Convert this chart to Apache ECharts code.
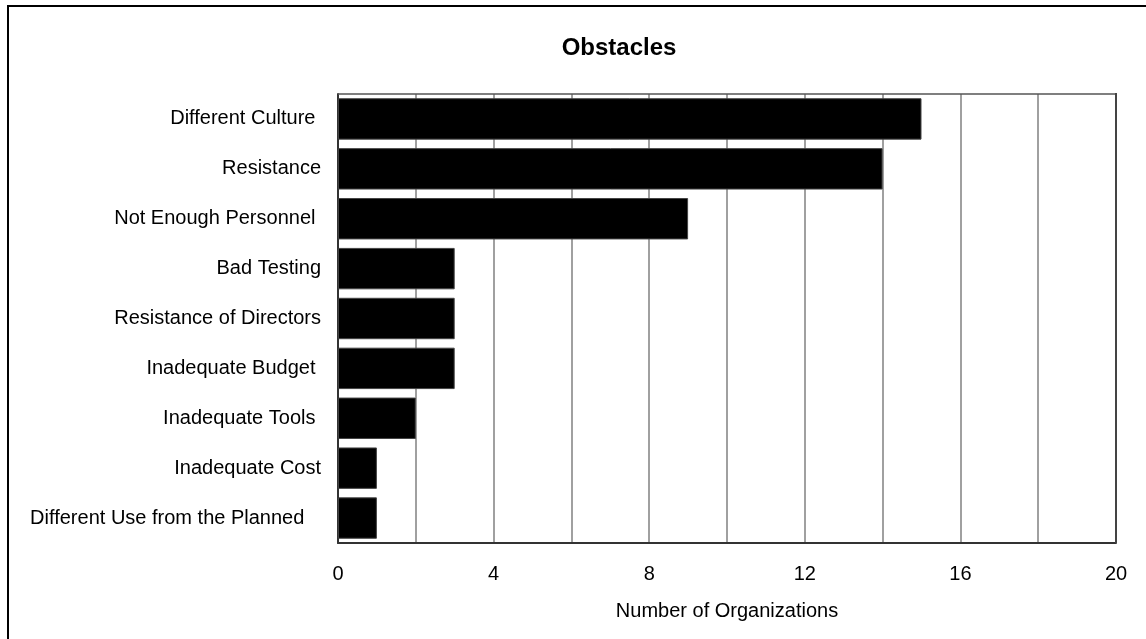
<!DOCTYPE html>
<html>
<head>
<meta charset="utf-8">
<title>Obstacles</title>
<script src="https://cdn.jsdelivr.net/npm/echarts@6/dist/echarts.min.js"></script>
<style>
  html, body { margin: 0; padding: 0; background: #fff; }
  #chart { width: 1146px; height: 639px; }
</style>
</head>
<body>
<div id="chart"></div>
<script>
// Obstacles reported, top to bottom as listed
const categories = [
  'Different Culture ',
  'Resistance',
  'Not Enough Personnel ',
  'Bad Testing',
  'Resistance of Directors',
  'Inadequate Budget ',
  'Inadequate Tools ',
  'Inadequate Cost',
  'Different Use from the Planned   '
];
const organizations = [15, 14, 9, 3, 3, 3, 2, 1, 1];
const xTickLabels = [0, 4, 8, 12, 16, 20];

const FONT = 'Liberation Sans, Arial, sans-serif';
const chart = echarts.init(document.getElementById('chart'), null, { renderer: 'canvas' });

chart.setOption({
  backgroundColor: '#ffffff',
  animation: false,
  title: {
    text: 'Obstacles',
    left: 614,
    top: 31,
    textAlign: 'center',
    textStyle: { fontFamily: FONT, fontSize: 24, fontWeight: 'bold', color: '#000' }
  },
  grid: { left: 338, right: 30, top: 94, bottom: 96, containLabel: false },
  xAxis: {
    type: 'value',
    min: 0,
    max: 20,
    interval: 2,
    name: 'Number of Organizations',
    nameLocation: 'middle',
    nameGap: 58,
    nameTextStyle: { fontFamily: FONT, fontSize: 20, color: '#000' },
    axisLine: { show: true, lineStyle: { color: '#333', width: 2 } },
    axisTick: { show: false },
    axisLabel: {
      margin: 21,
      fontFamily: FONT,
      fontSize: 20,
      color: '#000',
      formatter: v => (xTickLabels.indexOf(v) >= 0 ? String(v) : '')
    },
    splitLine: { show: true, lineStyle: { color: '#808080', width: 1.5 } }
  },
  yAxis: {
    type: 'category',
    inverse: true,
    data: categories,
    axisLine: { show: true, onZero: false, lineStyle: { color: '#333', width: 2 } },
    axisTick: { show: false },
    axisLabel: { margin: 17, fontFamily: FONT, fontSize: 20, color: '#000' },
    splitLine: { show: false }
  },
  series: [{
    type: 'bar',
    data: organizations,
    barCategoryGap: '17%',
    itemStyle: { color: '#000', borderColor: '#444', borderWidth: 1 },
    silent: true
  }],
  graphic: [
    // plot frame: top edge and heavier right edge
    { type: 'line', shape: { x1: 338, y1: 94, x2: 1116, y2: 94 }, style: { stroke: '#555', lineWidth: 1.5 }, z: 100 },
    { type: 'line', shape: { x1: 1116, y1: 93, x2: 1116, y2: 543 }, style: { stroke: '#444', lineWidth: 2 }, z: 100 },
    // page frame
    { type: 'line', shape: { x1: 8, y1: 6, x2: 1146, y2: 6 }, style: { stroke: '#000', lineWidth: 2 } },
    { type: 'line', shape: { x1: 8, y1: 5, x2: 8, y2: 639 }, style: { stroke: '#000', lineWidth: 2 } }
  ]
});
</script>
</body>
</html>
